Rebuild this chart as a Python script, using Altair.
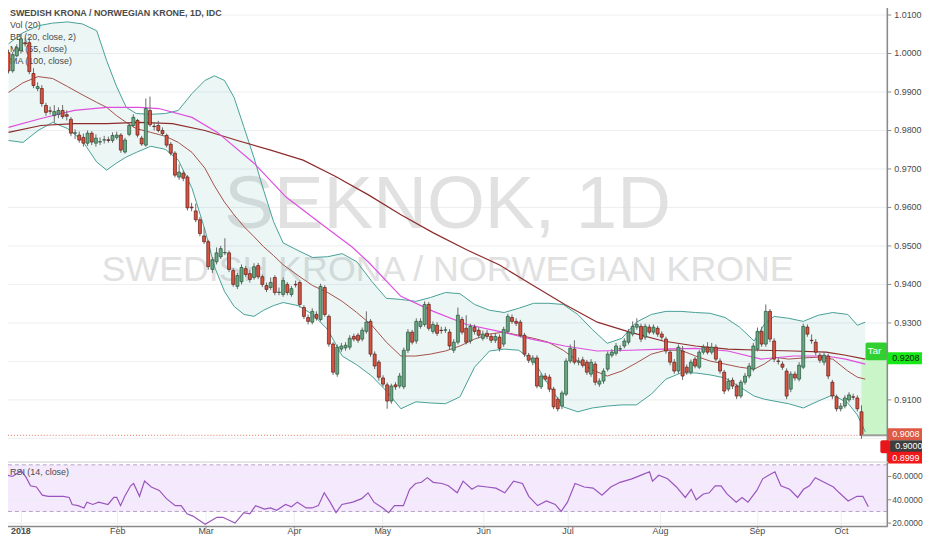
import altair as alt
import pandas as pd

# ---------------- data ----------------
opens = [1.0002, 0.9955, 0.9994, 1.0007, 1.0028, 1.0028, 0.9948, 0.9909, 0.9909, 0.9865,
         0.9851, 0.9839, 0.9842, 0.9852, 0.9841, 0.9829, 0.9793, 0.9788, 0.9782, 0.9767,
         0.9793, 0.9767, 0.9770, 0.9775, 0.9776, 0.9774, 0.9782, 0.9788, 0.9744, 0.9790,
         0.9813, 0.9826, 0.9780, 0.9762, 0.9852, 0.9811, 0.9813, 0.9800, 0.9787, 0.9764,
         0.9741, 0.9679, 0.9689, 0.9679, 0.9601, 0.9591, 0.9568, 0.9526, 0.9511, 0.9439,
         0.9459, 0.9472, 0.9482, 0.9482, 0.9436, 0.9395, 0.9407, 0.9441, 0.9428, 0.9418,
         0.9449, 0.9420, 0.9397, 0.9392, 0.9418, 0.9379, 0.9374, 0.9400, 0.9374, 0.9400,
         0.9405, 0.9340, 0.9314, 0.9302, 0.9322, 0.9309, 0.9392, 0.9317, 0.9245, 0.9167,
         0.9232, 0.9235, 0.9237, 0.9265, 0.9268, 0.9258, 0.9278, 0.9304, 0.9219, 0.9198,
         0.9157, 0.9139, 0.9097, 0.9139, 0.9136, 0.9134, 0.9229, 0.9276, 0.9253, 0.9291,
         0.9296, 0.9348, 0.9278, 0.9294, 0.9281, 0.9281, 0.9276, 0.9229, 0.9250, 0.9309,
         0.9286, 0.9253, 0.9289, 0.9281, 0.9260, 0.9273, 0.9265, 0.9255, 0.9263, 0.9245,
         0.9278, 0.9314, 0.9304, 0.9302, 0.9268, 0.9216, 0.9198, 0.9209, 0.9134, 0.9162,
         0.9159, 0.9128, 0.9102, 0.9084, 0.9115, 0.9201, 0.9232, 0.9198, 0.9204, 0.9198,
         0.9167, 0.9193, 0.9141, 0.9149, 0.9180, 0.9216, 0.9221, 0.9232, 0.9240, 0.9250,
         0.9271, 0.9289, 0.9291, 0.9263, 0.9289, 0.9276, 0.9286, 0.9271, 0.9258, 0.9224,
         0.9198, 0.9175, 0.9227, 0.9185, 0.9172, 0.9206, 0.9185, 0.9224, 0.9237, 0.9224,
         0.9237, 0.9201, 0.9172, 0.9128, 0.9151, 0.9136, 0.9110, 0.9146, 0.9162, 0.9180,
         0.9232, 0.9278, 0.9245, 0.9330, 0.9253, 0.9201, 0.9193, 0.9175, 0.9128, 0.9167,
         0.9154, 0.9185, 0.9289, 0.9255, 0.9250, 0.9216, 0.9198, 0.9214, 0.9146, 0.9108,
         0.9077, 0.9084, 0.9100, 0.9108, 0.9105, 0.9069]
closes = [0.9955, 0.9997, 1.0015, 1.0038, 1.0025, 0.9953, 0.9917, 0.9914, 0.9870, 0.9847,
          0.9850, 0.9849, 0.9852, 0.9836, 0.9837, 0.9793, 0.9794, 0.9775, 0.9767, 0.9793,
          0.9770, 0.9780, 0.9771, 0.9776, 0.9774, 0.9787, 0.9788, 0.9749, 0.9775, 0.9813,
          0.9834, 0.9788, 0.9765, 0.9857, 0.9815, 0.9810, 0.9800, 0.9792, 0.9762, 0.9741,
          0.9684, 0.9692, 0.9676, 0.9599, 0.9599, 0.9568, 0.9532, 0.9511, 0.9446, 0.9464,
          0.9482, 0.9493, 0.9483, 0.9439, 0.9400, 0.9423, 0.9444, 0.9426, 0.9413, 0.9446,
          0.9420, 0.9400, 0.9387, 0.9405, 0.9379, 0.9380, 0.9410, 0.9379, 0.9389, 0.9399,
          0.9348, 0.9317, 0.9304, 0.9330, 0.9312, 0.9395, 0.9322, 0.9245, 0.9172, 0.9237,
          0.9240, 0.9242, 0.9260, 0.9258, 0.9255, 0.9281, 0.9302, 0.9219, 0.9188, 0.9159,
          0.9141, 0.9097, 0.9136, 0.9134, 0.9162, 0.9229, 0.9276, 0.9250, 0.9304, 0.9304,
          0.9348, 0.9286, 0.9296, 0.9273, 0.9280, 0.9282, 0.9240, 0.9250, 0.9320, 0.9276,
          0.9250, 0.9291, 0.9278, 0.9268, 0.9271, 0.9265, 0.9255, 0.9265, 0.9234, 0.9283,
          0.9317, 0.9304, 0.9299, 0.9268, 0.9219, 0.9203, 0.9209, 0.9136, 0.9162, 0.9154,
          0.9128, 0.9082, 0.9077, 0.9118, 0.9201, 0.9234, 0.9198, 0.9201, 0.9190, 0.9172,
          0.9198, 0.9146, 0.9149, 0.9175, 0.9219, 0.9224, 0.9240, 0.9233, 0.9253, 0.9276,
          0.9291, 0.9296, 0.9258, 0.9291, 0.9276, 0.9289, 0.9271, 0.9263, 0.9227, 0.9198,
          0.9175, 0.9237, 0.9162, 0.9172, 0.9198, 0.9188, 0.9224, 0.9237, 0.9224, 0.9237,
          0.9206, 0.9175, 0.9123, 0.9149, 0.9136, 0.9110, 0.9146, 0.9162, 0.9188, 0.9240,
          0.9278, 0.9245, 0.9330, 0.9258, 0.9206, 0.9200, 0.9185, 0.9110, 0.9167, 0.9157,
          0.9190, 0.9291, 0.9271, 0.9254, 0.9224, 0.9203, 0.9216, 0.9162, 0.9110, 0.9077,
          0.9084, 0.9105, 0.9113, 0.9107, 0.9077, 0.9008]
highs = [1.0010, 1.0004, 1.0024, 1.0052, 1.0040, 1.0041, 0.9962, 0.9925, 0.9918, 0.9872,
         0.9862, 0.9866, 0.9860, 0.9866, 0.9852, 0.9835, 0.9803, 0.9797, 0.9792, 0.9800,
         0.9798, 0.9790, 0.9782, 0.9786, 0.9784, 0.9795, 0.9797, 0.9793, 0.9781, 0.9822,
         0.9842, 0.9830, 0.9786, 0.9883, 0.9888, 0.9822, 0.9825, 0.9808, 0.9792, 0.9770,
         0.9746, 0.9712, 0.9696, 0.9684, 0.9612, 0.9610, 0.9575, 0.9548, 0.9516, 0.9470,
         0.9496, 0.9500, 0.9520, 0.9488, 0.9442, 0.9430, 0.9452, 0.9448, 0.9438, 0.9455,
         0.9456, 0.9426, 0.9405, 0.9418, 0.9424, 0.9392, 0.9418, 0.9406, 0.9396, 0.9410,
         0.9410, 0.9346, 0.9322, 0.9338, 0.9330, 0.9402, 0.9398, 0.9322, 0.9250, 0.9244,
         0.9248, 0.9250, 0.9268, 0.9272, 0.9274, 0.9288, 0.9330, 0.9310, 0.9226, 0.9204,
         0.9164, 0.9145, 0.9142, 0.9146, 0.9170, 0.9236, 0.9284, 0.9282, 0.9312, 0.9312,
         0.9356, 0.9354, 0.9304, 0.9302, 0.9290, 0.9290, 0.9284, 0.9258, 0.9340, 0.9316,
         0.9320, 0.9298, 0.9296, 0.9288, 0.9280, 0.9282, 0.9272, 0.9274, 0.9270, 0.9290,
         0.9324, 0.9322, 0.9312, 0.9308, 0.9274, 0.9222, 0.9216, 0.9216, 0.9170, 0.9170,
         0.9166, 0.9134, 0.9108, 0.9124, 0.9208, 0.9244, 0.9255, 0.9210, 0.9212, 0.9204,
         0.9206, 0.9200, 0.9156, 0.9182, 0.9226, 0.9232, 0.9248, 0.9242, 0.9260, 0.9284,
         0.9304, 0.9312, 0.9298, 0.9298, 0.9296, 0.9296, 0.9292, 0.9278, 0.9264, 0.9230,
         0.9206, 0.9244, 0.9240, 0.9192, 0.9205, 0.9212, 0.9230, 0.9244, 0.9250, 0.9248,
         0.9244, 0.9208, 0.9178, 0.9156, 0.9158, 0.9142, 0.9152, 0.9170, 0.9196, 0.9248,
         0.9288, 0.9290, 0.9348, 0.9336, 0.9260, 0.9210, 0.9200, 0.9182, 0.9174, 0.9174,
         0.9198, 0.9298, 0.9296, 0.9270, 0.9258, 0.9222, 0.9224, 0.9220, 0.9152, 0.9114,
         0.9092, 0.9112, 0.9120, 0.9116, 0.9112, 0.9086]
lows = [0.9948, 0.9950, 0.9990, 1.0000, 1.0018, 0.9946, 0.9910, 0.9902, 0.9862, 0.9838,
        0.9842, 0.9820, 0.9832, 0.9830, 0.9826, 0.9785, 0.9778, 0.9768, 0.9758, 0.9760,
        0.9762, 0.9758, 0.9762, 0.9766, 0.9768, 0.9768, 0.9776, 0.9742, 0.9740, 0.9785,
        0.9808, 0.9782, 0.9760, 0.9758, 0.9810, 0.9800, 0.9795, 0.9786, 0.9756, 0.9735,
        0.9678, 0.9672, 0.9668, 0.9592, 0.9590, 0.9562, 0.9525, 0.9505, 0.9438, 0.9430,
        0.9452, 0.9466, 0.9476, 0.9432, 0.9394, 0.9388, 0.9400, 0.9420, 0.9405, 0.9412,
        0.9414, 0.9393, 0.9380, 0.9386, 0.9372, 0.9372, 0.9368, 0.9372, 0.9368, 0.9392,
        0.9340, 0.9310, 0.9296, 0.9296, 0.9306, 0.9304, 0.9316, 0.9238, 0.9165, 0.9160,
        0.9225, 0.9228, 0.9230, 0.9252, 0.9248, 0.9252, 0.9272, 0.9212, 0.9180, 0.9150,
        0.9134, 0.9077, 0.9090, 0.9126, 0.9130, 0.9128, 0.9222, 0.9244, 0.9246, 0.9285,
        0.9290, 0.9280, 0.9272, 0.9266, 0.9272, 0.9274, 0.9232, 0.9222, 0.9244, 0.9270,
        0.9244, 0.9246, 0.9270, 0.9260, 0.9254, 0.9258, 0.9248, 0.9248, 0.9226, 0.9238,
        0.9272, 0.9298, 0.9292, 0.9262, 0.9212, 0.9196, 0.9190, 0.9130, 0.9128, 0.9148,
        0.9120, 0.9076, 0.9070, 0.9076, 0.9110, 0.9195, 0.9192, 0.9190, 0.9184, 0.9165,
        0.9160, 0.9138, 0.9134, 0.9142, 0.9174, 0.9210, 0.9215, 0.9225, 0.9234, 0.9244,
        0.9265, 0.9282, 0.9250, 0.9256, 0.9270, 0.9270, 0.9264, 0.9256, 0.9220, 0.9190,
        0.9168, 0.9168, 0.9152, 0.9165, 0.9166, 0.9182, 0.9180, 0.9218, 0.9218, 0.9218,
        0.9200, 0.9168, 0.9115, 0.9122, 0.9128, 0.9102, 0.9104, 0.9140, 0.9156, 0.9174,
        0.9226, 0.9238, 0.9238, 0.9250, 0.9198, 0.9192, 0.9178, 0.9102, 0.9120, 0.9150,
        0.9148, 0.9180, 0.9264, 0.9246, 0.9216, 0.9196, 0.9190, 0.9154, 0.9102, 0.9070,
        0.9070, 0.9078, 0.9094, 0.9100, 0.9070, 0.8999]

# Bollinger bands (20, close, 2) sampled at bar positions
bb_idx = [0, 3.5, 7.1, 10.6, 14.2, 17.7, 21.2, 23.6, 25.9, 28.3, 30.7, 34.2, 37.7, 40.8, 44.1,
          47.2, 49.5, 51.9, 54.2, 56.6, 59.0, 61.3, 63.7, 66.0, 69.6, 73.1, 76.7, 80.2, 83.7,
          87.3, 90.8, 94.3, 97.9, 101.4, 105.0, 108.5, 112.0, 115.6, 119.1, 122.6, 126.2,
          129.7, 133.3, 136.8, 140.3, 143.9, 147.4, 150.9, 154.5, 158.0, 161.6, 165.1, 168.6,
          172.2, 175.7, 179.2, 181.6, 184.0, 187.5, 191.0, 194.6, 198.1, 201.7, 204.0, 205.9]
bb_upper = [1.0025, 1.0054, 1.0072, 1.0079, 1.0082, 1.0077, 1.0059, 0.9981, 0.9916, 0.9860,
            0.9844, 0.9842, 0.9844, 0.9852, 0.9896, 0.9930, 0.9942, 0.9930, 0.9886, 0.9808,
            0.9729, 0.9645, 0.9563, 0.9508, 0.9488, 0.9470, 0.9472, 0.9480, 0.9459, 0.9408,
            0.9364, 0.9361, 0.9356, 0.9366, 0.9379, 0.9376, 0.9348, 0.9333, 0.9327, 0.9338,
            0.9351, 0.9351, 0.9348, 0.9322, 0.9283, 0.9247, 0.9260, 0.9302, 0.9322, 0.9330,
            0.9330, 0.9327, 0.9325, 0.9314, 0.9289, 0.9253, 0.9296, 0.9317, 0.9312, 0.9304,
            0.9320, 0.9327, 0.9322, 0.9294, 0.9302]
bb_lower = [0.9774, 0.9769, 0.9800, 0.9821, 0.9805, 0.9774, 0.9718, 0.9697, 0.9715, 0.9731,
            0.9743, 0.9759, 0.9751, 0.9723, 0.9650, 0.9542, 0.9446, 0.9382, 0.9343, 0.9322,
            0.9317, 0.9333, 0.9345, 0.9353, 0.9345, 0.9322, 0.9283, 0.9214, 0.9191, 0.9162,
            0.9123, 0.9077, 0.9095, 0.9092, 0.9090, 0.9108, 0.9185, 0.9227, 0.9232, 0.9229,
            0.9201, 0.9141, 0.9082, 0.9069, 0.9079, 0.9084, 0.9087, 0.9087, 0.9115, 0.9154,
            0.9170, 0.9170, 0.9165, 0.9157, 0.9134, 0.9110, 0.9102, 0.9097, 0.9090, 0.9079,
            0.9097, 0.9113, 0.9092, 0.9061, 0.9017]
bb_basis = [0.9899, 0.9924, 0.9940, 0.9935, 0.9914, 0.9893, 0.9873, 0.9860, 0.9839, 0.9821,
            0.9805, 0.9795, 0.9785, 0.9769, 0.9743, 0.9702, 0.9656, 0.9614, 0.9581, 0.9550,
            0.9524, 0.9498, 0.9475, 0.9451, 0.9423, 0.9397, 0.9379, 0.9356, 0.9327, 0.9294,
            0.9250, 0.9214, 0.9214, 0.9219, 0.9227, 0.9240, 0.9258, 0.9271, 0.9276, 0.9268,
            0.9260, 0.9250, 0.9229, 0.9201, 0.9178, 0.9162, 0.9175, 0.9196, 0.9219, 0.9229,
            0.9229, 0.9214, 0.9201, 0.9193, 0.9185, 0.9180, 0.9193, 0.9211, 0.9206, 0.9209,
            0.9211, 0.9206, 0.9175, 0.9159, 0.9154]

ma55_idx = [0, 7.8, 15.8, 23.6, 31.4, 36.1, 44.1, 50.2, 59.0, 66.7, 74.8, 82.5, 86.6, 94.3,
            102.1, 110.1, 117.9, 125.7, 133.7, 141.5, 149.3, 157.3, 165.1, 172.9, 180.9,
            188.7, 196.5, 201.2, 205.9]
ma55 = [0.9808, 0.9831, 0.9852, 0.9860, 0.9860, 0.9857, 0.9834, 0.9795, 0.9715, 0.9627,
        0.9560, 0.9498, 0.9457, 0.9369, 0.9330, 0.9296, 0.9278, 0.9258, 0.9240, 0.9227,
        0.9229, 0.9232, 0.9234, 0.9227, 0.9206, 0.9214, 0.9214, 0.9206, 0.9193]

ma100_idx = [0, 7.8, 15.8, 23.6, 31.4, 39.4, 47.2, 55.0, 63.0, 70.8, 78.5, 86.6, 94.3, 102.1,
             110.1, 117.9, 125.7, 133.7, 141.5, 149.3, 157.3, 165.1, 172.9, 180.9, 188.7,
             196.5, 201.2, 205.9]
ma100 = [0.9795, 0.9813, 0.9818, 0.9818, 0.9821, 0.9818, 0.9800, 0.9774, 0.9749, 0.9723,
         0.9681, 0.9632, 0.9581, 0.9534, 0.9490, 0.9451, 0.9400, 0.9348, 0.9302, 0.9276,
         0.9253, 0.9240, 0.9232, 0.9229, 0.9227, 0.9224, 0.9216, 0.9206]

rsi_idx = [0.0, 2.1, 4.2, 5.4, 6.4, 7.8, 9.2, 10.6, 12.0, 14.2, 15.6, 16.3, 17.7, 19.1, 19.8,
           21.2, 22.6, 24.8, 26.2, 26.9, 27.8, 28.8, 30.2, 30.9, 32.3, 33.5, 35.1, 37.0, 38.7,
           40.8, 42.2, 43.6, 45.0, 47.9, 49.3, 50.7, 52.1, 55.0, 57.1, 58.5, 59.9, 62.0, 63.4,
           64.9, 67.0, 68.4, 69.8, 71.9, 73.3, 74.8, 76.2, 77.6, 79.0, 80.4, 83.0, 85.1, 86.6,
           88.0, 90.1, 91.5, 92.9, 95.0, 96.5, 97.9, 99.3, 100.7, 102.1, 104.2, 105.7, 107.8,
           109.2, 111.3, 112.7, 114.9, 117.0, 119.1, 121.2, 123.3, 124.8, 126.9, 129.0, 131.1,
           132.5, 134.0, 135.8, 138.0, 140.1, 142.2, 144.3, 146.5, 149.3, 152.1, 153.5, 154.2,
           155.7, 157.8, 159.9, 162.0, 163.4, 164.6, 166.3, 167.7, 169.1, 170.5, 171.9, 174.1,
           175.5, 176.9, 179.0, 180.4, 181.8, 183.3, 184.7, 186.8, 188.7, 190.1, 191.5, 192.9,
           195.0, 197.2, 198.6, 200.7, 202.8, 204.2, 205.5]
rsi = [62, 60, 65, 59, 52, 51, 44, 43, 43, 43, 42, 36, 35, 33, 38,
       36, 38, 36, 42, 42, 35, 43, 52, 54, 43, 56, 51, 48, 41,
       35, 35, 28, 26, 19, 22, 25, 25, 20, 29, 28, 35, 32, 33,
       31, 36, 34, 38, 33, 33, 35, 46, 38, 29, 36, 38, 41, 46,
       38, 33, 29, 35, 35, 49, 54, 55, 59, 55, 54, 52, 46,
       56, 49, 52, 51, 50, 46, 56, 54, 43, 35, 39, 36,
       30, 38, 54, 51, 50, 44, 51, 55, 58, 62, 64, 56,
       61, 58, 51, 42, 49, 40, 45, 46, 52, 52, 45, 38,
       42, 38, 48, 58, 61, 64, 52, 49, 42, 49, 52, 59,
       55, 51, 46, 39, 43, 43, 34]

month_idx = [4, 27, 48, 69, 90, 114, 134, 156, 179, 199]
month_lab = ["2018", "Feb", "Mar", "Apr", "May", "Jun", "Jul", "Aug", "Sep", "Oct"]
price_grid = [0.90, 0.91, 0.92, 0.93, 0.94, 0.95, 0.96, 0.97, 0.98, 0.99, 1.00, 1.01]
price_labels = [0.91, 0.93, 0.94, 0.95, 0.96, 0.97, 0.98, 0.99, 1.00, 1.01]
rsi_ticks = [20, 40, 60]
rsi_bands = [30, 70]

last_price = 0.9008
target_price = 0.9208
level_a = 0.9000
level_b = 0.8999

# ---------------- layout / style ----------------
W, HM, HR = 893, 464, 65
FONT = "Liberation Sans"
AX = "#8a8a8a"
GRID = "#eceef0"
LBL = "#4a4a4a"
UP, DOWN = "#6ba583", "#d75442"
UPB, DOWNB = "#225437", "#5b1a13"
TEAL = "#47a096"

xs = alt.Scale(domain=[-0.6, 210.0], nice=False, zero=False)
ys = alt.Scale(domain=[0.89398, 1.01362], nice=False, zero=False)
rs = alt.Scale(domain=[17.48, 72.8], nice=False, zero=False)

one = pd.DataFrame({"k": [0]})
n = len(opens)
candles = pd.DataFrame({"x": list(range(n)), "o": opens, "h": highs, "l": lows, "c": closes})
candles["dir"] = ["up" if c >= o else "down" for o, c in zip(opens, closes)]
bb = pd.DataFrame({"x": bb_idx, "up": bb_upper, "lo": bb_lower, "mid": bb_basis})
m55 = pd.DataFrame({"x": ma55_idx, "v": ma55})
m100 = pd.DataFrame({"x": ma100_idx, "v": ma100})
rsi_df = pd.DataFrame({"x": rsi_idx, "v": rsi})
months = pd.DataFrame({"x": month_idx})
last_i = n - 1

X = lambda: alt.X("x:Q", scale=xs, axis=None)
Yp = lambda f: alt.Y(f, scale=ys, axis=None)
Yr = lambda f: alt.Y(f, scale=rs, axis=None)

label_expr = ("[" + ",".join("'%s'" % s for s in month_lab) + "][indexof(["
              + ",".join(str(v) for v in month_idx) + "], datum.value)]")


def txt(s, x, y, size=9, weight="normal", color=LBL, align="left", opacity=1):
    return alt.Chart(one).mark_text(text=s, align=align, baseline="middle", fontSize=size,
                                    fontWeight=weight, color=color, font=FONT,
                                    opacity=opacity).encode(x=alt.value(x), y=alt.value(y))


def right_axis(ticks, labels, yenc, height, fmt="%.4f", size=9, gap=7):
    gdf = pd.DataFrame({"v": ticks})
    ldf = pd.DataFrame({"v": labels, "t": [fmt % v for v in labels]})
    grid = alt.Chart(gdf).mark_rule(color=GRID, strokeWidth=1).encode(
        x=alt.value(0), x2=alt.value(W), y=yenc("v:Q"))
    tks = alt.Chart(ldf).mark_rule(color=AX, strokeWidth=1).encode(
        x=alt.value(W), x2=alt.value(W + 4), y=yenc("v:Q"))
    lbl = alt.Chart(ldf).mark_text(align="left", baseline="middle", fontSize=size, color=LBL,
                                   font=FONT).encode(x=alt.value(W + gap), y=yenc("v:Q"), text="t:N")
    dom = alt.Chart(one).mark_rule(color=AX, strokeWidth=1.5).encode(
        x=alt.value(W), y=alt.value(1), y2=alt.value(height))
    return grid, alt.layer(tks, lbl, dom)


# watermarks
wm1 = txt("SEKNOK, 1D", 450, 206, size=75, color="#dcdcdc", align="center", opacity=0.85)
wm2 = txt("SWEDISH KRONA / NORWEGIAN KRONE", 450, 271, size=36, color="#dcdcdc", align="center",
          opacity=0.85)

# x grid (month lines) + bottom separator line
xaxis_main = alt.Chart(months).mark_rule(opacity=0).encode(
    x=alt.X("x:Q", scale=xs, axis=alt.Axis(values=month_idx, labels=False, ticks=False,
                                           domain=True, domainColor=AX, domainWidth=1.5,
                                           grid=True, gridColor=GRID, title=None)))
grid_main, yaxis_main = right_axis(price_grid, price_labels, Yp, HM)

bb_fill = alt.Chart(bb).mark_area(color="#2a9d8f", opacity=0.09).encode(x=X(), y=Yp("lo:Q"), y2="up:Q")
zone_df = pd.DataFrame({"x": [last_i], "a": [last_price], "b": [target_price]})
zone = alt.Chart(zone_df).mark_rect(color="#c9f5c9").encode(
    x=X(), x2=alt.value(W), y=Yp("a:Q"), y2="b:Q")
last_df = pd.DataFrame({"p": [last_price], "x": [last_i]})
dotted = alt.Chart(last_df).mark_rule(color="#e07560", strokeDash=[1, 2], strokeWidth=1).encode(
    x=alt.value(1), x2=alt.value(W), y=Yp("p:Q"))
zone_base = alt.Chart(last_df).mark_rule(color="#9e9e9e", strokeWidth=2).encode(
    x=X(), x2=alt.value(W), y=Yp("p:Q"))

l_up = alt.Chart(bb).mark_line(color=TEAL, strokeWidth=1).encode(x=X(), y=Yp("up:Q"))
l_lo = alt.Chart(bb).mark_line(color=TEAL, strokeWidth=1).encode(x=X(), y=Yp("lo:Q"))
l_mid = alt.Chart(bb).mark_line(color="#a5504c", strokeWidth=1).encode(x=X(), y=Yp("mid:Q"))
l_100 = alt.Chart(m100).mark_line(color="#8e2c2c", strokeWidth=1.2).encode(x=X(), y=Yp("v:Q"))
l_55 = alt.Chart(m55).mark_line(color="#df4fdf", strokeWidth=1.2).encode(x=X(), y=Yp("v:Q"))

wicks = alt.Chart(candles).mark_rule(color="#6a6a6a", strokeWidth=1).encode(
    x=X(), y=Yp("l:Q"), y2="h:Q")
bodies = alt.Chart(candles).mark_bar(size=3, strokeWidth=0.7).encode(
    x=X(), y=Yp("o:Q"), y2="c:Q",
    color=alt.Color("dir:N", scale=alt.Scale(domain=["up", "down"], range=[UP, DOWN]), legend=None),
    stroke=alt.Stroke("dir:N", scale=alt.Scale(domain=["up", "down"], range=[UPB, DOWNB]), legend=None))

tgt_df = pd.DataFrame({"p": [target_price], "x": [last_i], "t": ["Tar"]})
tar_box = alt.Chart(tgt_df).mark_rect(color="#2fd02f", xOffset=4, yOffset=-16, y2Offset=2,
                                      cornerRadius=2).encode(
    x=X(), x2=alt.value(W), y=Yp("p:Q"), y2="p:Q")
tar_txt = alt.Chart(tgt_df).mark_text(align="left", baseline="middle", dx=6, dy=-7, fontSize=10,
                                      color="white", font=FONT).encode(x=X(), y=Yp("p:Q"), text="t:N")


def tag(price, fill, tcolor, dy, x0=W, x1=W + 35):
    df = pd.DataFrame({"p": [price], "t": ["%.4f" % price]})
    r = alt.Chart(df).mark_rect(color=fill, yOffset=dy - 6, y2Offset=dy + 6).encode(
        x=alt.value(x0), x2=alt.value(x1), y=Yp("p:Q"), y2="p:Q")
    t = alt.Chart(df).mark_text(align="left", baseline="middle", dy=dy, fontSize=9,
                                color=tcolor, font=FONT).encode(
        x=alt.value(x0 + 5), y=Yp("p:Q"), text="t:N")
    return r + t


tab_df = pd.DataFrame({"p": [level_a]})
red_tab = alt.Chart(tab_df).mark_rect(color="#e8151b", yOffset=2, y2Offset=15, cornerRadius=2).encode(
    x=alt.value(886), x2=alt.value(897), y=Yp("p:Q"), y2="p:Q")

tags = (tag(target_price, "#17e817", "#102010", 0) + tag(last_price, "#de5a45", "white", -1)
        + red_tab + tag(level_a, "#3e3e3e", "white", 8, x0=W + 3)
        + tag(level_b, "#f01818", "white", 19))

legend = (txt("SWEDISH KRONA / NORWEGIAN KRONE, 1D, IDC", 9, 12, weight="bold")
          + txt("Vol (20)", 9, 24) + txt("BB (20, close, 2)", 9, 36)
          + txt("MA (55, close)", 9, 48) + txt("MA (100, close)", 9, 60))

main = alt.layer(grid_main, xaxis_main, wm1, wm2, bb_fill, zone, dotted, legend, l_up, l_lo,
                 l_mid, l_100, l_55, wicks, bodies, zone_base, tar_box, tar_txt, yaxis_main,
                 tags).properties(width=W, height=HM)

# ---------------- RSI panel ----------------
band_df = pd.DataFrame({"a": [rsi_bands[0]], "b": [rsi_bands[1]]})
band = alt.Chart(band_df).mark_rect(color="#f4e9fd").encode(
    x=alt.value(0), x2=alt.value(W), y=Yr("a:Q"), y2="b:Q")
dash_df = pd.DataFrame({"v": rsi_bands})
dashes = alt.Chart(dash_df).mark_rule(color="#b3a6c6", strokeDash=[4, 3], strokeWidth=1).encode(
    x=alt.value(0), x2=alt.value(W), y=Yr("v:Q"))
grid_rsi, yaxis_rsi = right_axis(rsi_ticks, rsi_ticks, Yr, HR, size=8.5, gap=5)
rsi_line = alt.Chart(rsi_df).mark_line(color="#9a55bd", strokeWidth=1.2).encode(
    x=alt.X("x:Q", scale=xs, axis=alt.Axis(
        values=month_idx, labelExpr=label_expr,
        labelFontWeight={"condition": {"test": "datum.value == 4", "value": "bold"}, "value": "normal"},
        grid=True, gridColor=GRID, domainColor=AX, domainWidth=1.5, ticks=True, tickColor=AX,
        tickSize=2, labelColor=LBL, labelFont=FONT, labelFontSize=9, labelPadding=-1,
        title=None)),
    y=Yr("v:Q"))
rsi_lbl = txt("RSI (14, close)", 9, 11)

rsi_panel = alt.layer(band, grid_rsi, dashes, rsi_line, yaxis_rsi, rsi_lbl).properties(width=W, height=HR)

chart = alt.vconcat(main, rsi_panel, spacing=0, bounds="flush").properties(
    padding={"left": -8, "top": -10, "right": 0, "bottom": -2}
).configure_view(stroke=None).configure(font=FONT, background="white")

chart.save("out.html", embed_options={"renderer": "svg", "actions": False})
